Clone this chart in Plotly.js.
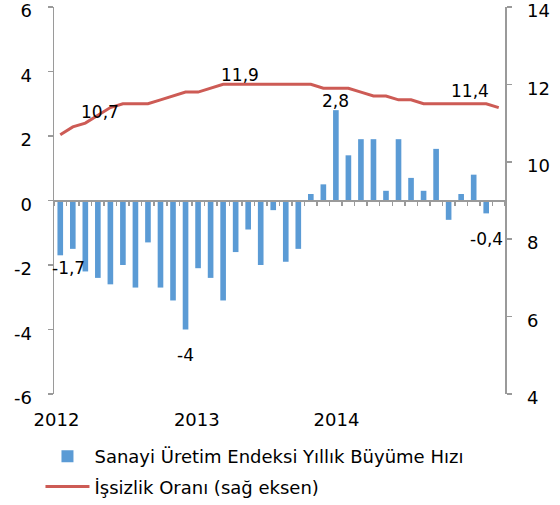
<!DOCTYPE html>
<html>
<head>
<meta charset="utf-8">
<script src="https://cdn.plot.ly/plotly-3.0.1.min.js"></script>
<style>html,body{margin:0;padding:0;background:#fff;}#chart{width:560px;height:505px;}</style>
</head>
<body>
<div id="chart"></div>
<script>
// Months Jan 2012 .. Dec 2014 (index positions)
const months = [
  '2012-01','2012-02','2012-03','2012-04','2012-05','2012-06','2012-07','2012-08','2012-09','2012-10','2012-11','2012-12',
  '2013-01','2013-02','2013-03','2013-04','2013-05','2013-06','2013-07','2013-08','2013-09','2013-10','2013-11','2013-12',
  '2014-01','2014-02','2014-03','2014-04','2014-05','2014-06','2014-07','2014-08','2014-09','2014-10','2014-11','2014-12'
];
// Industrial production index, annual growth (%), left axis (Dec 2014 not available)
const sanayi = [
  -1.7,-1.5,-2.2,-2.4,-2.6,-2.0,-2.7,-1.3,-2.7,-3.1,-4.0,-2.1,
  -2.4,-3.1,-1.6,-0.9,-2.0,-0.3,-1.9,-1.5,0.2,0.5,2.8,1.4,
  1.9,1.9,0.3,1.9,0.7,0.3,1.6,-0.6,0.2,0.8,-0.4,null
];
// Unemployment rate (%), right axis
const issizlik = [
  10.7,10.9,11.0,11.2,11.4,11.5,11.5,11.5,11.6,11.7,11.8,11.8,
  11.9,12.0,12.0,12.0,12.0,12.0,12.0,12.0,12.0,11.9,11.9,11.9,
  11.8,11.7,11.7,11.6,11.6,11.5,11.5,11.5,11.5,11.5,11.5,11.4
];
const yearLabels = ['2012','2013','2014'];
const leftTicks = [-6,-4,-2,0,2,4,6];
const rightTicks = [4,6,8,10,12,14];
const seriesNames = ['Sanayi Üretim Endeksi Yıllık Büyüme Hızı','İşsizlik Oranı (sağ eksen)'];

const idx = months.map((m,i)=>i);
const fmt = v => String(v).replace('.', ',');

const FONT = 'DejaVu Sans, sans-serif';
const AXC = '#9a9a9a';

const traces = [
  {type:'bar', x:idx, y:sanayi, name:seriesNames[0], xaxis:'x', yaxis:'y', legendgroup:'a',
   marker:{color:'#5b9bd5'}, width:0.45, hoverinfo:'y'},
  {type:'scatter', mode:'lines', x:idx, y:issizlik, name:seriesNames[1], xaxis:'x2', yaxis:'y2', legendgroup:'b',
   line:{color:'#cd5b55', width:3}, hoverinfo:'y'}
];

// data labels
const barLab = [[0,8,-13],[10,0,-26],[22,0,9],[34,0,-26]];
const lineLab = [[0,40,23],[14,4,9],[35,-29,17]];
const annotations = [];
barLab.forEach(([i,dx,dy])=>annotations.push({x:i,y:sanayi[i],xref:'x',yref:'y',text:fmt(sanayi[i]),showarrow:false,xshift:dx,yshift:dy,font:{family:FONT,size:17,color:'#000'}}));
lineLab.forEach(([i,dx,dy])=>annotations.push({x:i,y:issizlik[i],xref:'x2',yref:'y2',text:fmt(issizlik[i] === 12.0 ? 11.9 : issizlik[i]),showarrow:false,xshift:dx,yshift:dy,font:{family:FONT,size:17,color:'#000'}}));

// plot area: top margin kept at 0 and the y domain trimmed instead (avoids legend auto-margin padding)
const yDom = [0, 390/397];

const layout = {
  width:560, height:505,
  margin:{l:54, r:55, t:0, b:108},
  paper_bgcolor:'#fff', plot_bgcolor:'#fff',
  font:{family:FONT, size:17, color:'#000'},
  showlegend:true,
  legend:{x:-0.03, y:-0.113, xanchor:'left', yanchor:'top', orientation:'v', font:{family:FONT,size:18,color:'#000'}, tracegroupgap:4, itemwidth:44},
  xaxis:{range:[-0.5,35.5], tickmode:'array', tickvals:[-0.3,10.9,22.05], ticktext:yearLabels, showline:false, ticks:'', showgrid:false, zeroline:false, ticklabelstandoff:13, ticklabeloverflow:'allow', tickfont:{family:FONT,size:18}},
  xaxis2:{range:[-0.5,35.5], overlaying:'x', anchor:'free', position:yDom[1]/2, showline:true, linecolor:AXC, linewidth:1.5, ticks:'outside', ticklen:4, tickcolor:AXC, tickwidth:1.5, tick0:-0.5, dtick:1, showticklabels:false, showgrid:false, zeroline:false},
  yaxis:{domain:yDom, range:[-6,6], tickmode:'array', tickvals:leftTicks, ticktext:leftTicks.map(String), showline:true, linecolor:AXC, linewidth:1.5, ticks:'outside', ticklen:5, tickcolor:AXC, tickwidth:1.5, showgrid:false, zeroline:false, tickfont:{family:FONT,size:18}, ticklabelstandoff:12, ticklabelshift:4, ticklabeloverflow:'allow'},
  yaxis2:{domain:yDom, range:[4,14], tickmode:'array', tickvals:rightTicks, ticktext:rightTicks.map(String), overlaying:'y', side:'right', anchor:'x2', showline:true, linecolor:AXC, linewidth:1.5, ticks:'outside', ticklen:5, tickcolor:AXC, tickwidth:1.5, showgrid:false, zeroline:false, tickfont:{family:FONT,size:18}, ticklabelstandoff:12, ticklabelshift:4, ticklabeloverflow:'allow'},
  annotations:annotations
};
Plotly.newPlot('chart', traces, layout, {displayModeBar:false, staticPlot:true});
</script>
</body>
</html>
